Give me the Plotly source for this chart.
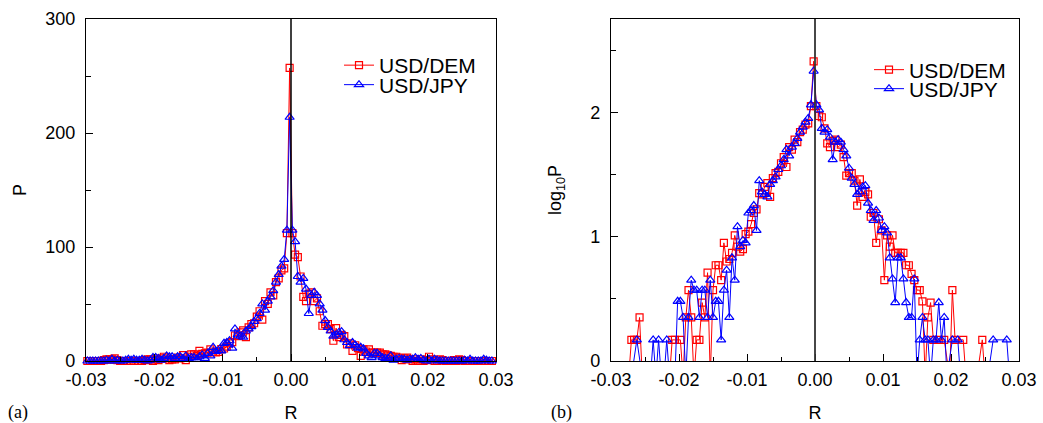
import numpy as np
import plotly.graph_objects as go

# ---------------- data ----------------
R_BINS = [
    -0.0298, -0.0294, -0.0290, -0.0286, -0.0282, -0.0278, -0.0274, -0.0270, -0.0266, -0.0262,
    -0.0258, -0.0254, -0.0250, -0.0246, -0.0242, -0.0238, -0.0234, -0.0230, -0.0226, -0.0222,
    -0.0218, -0.0214, -0.0210, -0.0206, -0.0202, -0.0198, -0.0194, -0.0190, -0.0186, -0.0182,
    -0.0178, -0.0174, -0.0170, -0.0166, -0.0162, -0.0158, -0.0154, -0.0150, -0.0146, -0.0142,
    -0.0138, -0.0134, -0.0130, -0.0126, -0.0122, -0.0118, -0.0114, -0.0110, -0.0106, -0.0102,
    -0.0098, -0.0094, -0.0090, -0.0086, -0.0082, -0.0078, -0.0074, -0.0070, -0.0066, -0.0062,
    -0.0058, -0.0054, -0.0050, -0.0046, -0.0042, -0.0038, -0.0034, -0.0030, -0.0026, -0.0022,
    -0.0018, -0.0014, -0.0010, -0.0006, -0.0002,
    0.0002, 0.0006, 0.0010, 0.0014, 0.0018, 0.0022, 0.0026, 0.0030, 0.0034, 0.0038,
    0.0042, 0.0046, 0.0050, 0.0054, 0.0058, 0.0062, 0.0066, 0.0070, 0.0074, 0.0078,
    0.0082, 0.0086, 0.0090, 0.0094, 0.0098, 0.0102, 0.0106, 0.0110, 0.0114, 0.0118,
    0.0122, 0.0126, 0.0130, 0.0134, 0.0138, 0.0142, 0.0146, 0.0150, 0.0154, 0.0158,
    0.0162, 0.0166, 0.0170, 0.0174, 0.0178, 0.0182, 0.0186, 0.0190, 0.0194, 0.0198,
    0.0202, 0.0206, 0.0210, 0.0214, 0.0218, 0.0222, 0.0226, 0.0230, 0.0234, 0.0238,
    0.0242, 0.0246, 0.0250, 0.0254, 0.0258, 0.0262, 0.0266, 0.0270, 0.0274, 0.0278,
    0.0282, 0.0286, 0.0290, 0.0294,
]

# log10 P per bin (None = empty bin)
LOGP_DEM = [
    None, None, None, None, None, None, -0.13, 0.17, 0.17, 0.17,
    0.35, -0.13, None, None, None, None, None, None, None, None,
    None, -0.13, 0.17, 0.17, None, 0.17, -0.13, 0.35, 0.57, 0.35,
    -0.13, 0.17, 0.17, 0.47, 0.35, 0.71, -0.13, 0.57, 0.77, 0.77,
    0.65, 0.95, 0.80, 0.82, 0.87, 1.01, 0.92, 0.88, 0.90, 1.02,
    1.04, 1.10, 1.19, 1.22, 1.35, 1.34, 1.40, 1.43, 1.32, 1.47,
    1.51, 1.52, 1.59, 1.64, 1.56, 1.72, 1.70, 1.78, 1.76, 1.84,
    1.86, 1.90, 1.91, 2.05, 2.41,
    2.05, 1.97, 1.96, 1.87, 1.75, 1.72, 1.77, 1.78, 1.72, 1.74,
    1.64, 1.49, 1.51, 1.51, 1.45, 1.25, 1.46, 1.32, 1.36, 1.34,
    1.16, 1.19, 0.95, 1.14, 1.05, 0.65, 1.01, 0.92, 1.01, 0.87,
    0.87, 0.87, 0.87, 0.77, 0.77, 0.70, 0.65, 0.57, 0.57, 0.48,
    -0.13, 0.35, 0.47, 0.17, None, 0.17, None, 0.17, None, -0.13,
    0.57, 0.17, None, None, 0.17, -0.13, None, None, None, -0.13,
    None, 0.17, -0.13, None, None, None, None, None, None, None,
    None, None, None, None,
]

LOGP_JPY = [
    None, None, None, None, None, None, None, -0.13, None, 0.17,
    None, -0.13, None, None, -0.13, 0.17, -0.13, 0.17, -0.13, -0.13,
    0.17, -0.13, None, -0.13, 0.48, 0.48, 0.35, -0.13, 0.35, 0.65,
    0.57, 0.57, 0.35, 0.57, 0.57, 0.35, 0.65, 0.35, 0.48, 0.48,
    0.17, 0.57, 0.73, 0.35, 0.83, 0.65, 1.08, 0.92, 0.97, 0.95,
    1.19, 1.21, 1.25, 1.05, 1.45, 1.36, 1.34, 1.32, 1.42, 1.45,
    1.48, 1.54, 1.57, 1.62, 1.70, 1.65, 1.72, 1.75, 1.79, 1.84,
    1.88, 1.92, 1.95, 2.06, 2.33,
    2.06, 2.02, 1.87, 1.84, 1.86, 1.80, 1.62, 1.76, 1.78, 1.76,
    1.70, 1.65, 1.55, 1.47, 1.42, 1.34, 1.36, 1.40, 1.41, 1.27,
    1.21, 1.13, 1.21, 1.15, 1.05, 1.08, 1.03, 0.83, 0.66, 0.47,
    0.83, 0.83, 0.66, 0.47, 0.35, 0.35, 0.66, -0.13, 0.17, 0.35,
    0.17, 0.17, -0.13, 0.17, 0.17, 0.47, 0.17, 0.35, -0.13, None,
    0.17, None, 0.17, -0.13, None, None, None, None, None, None,
    None, None, None, -0.13, None, 0.17, None, None, None, None,
    0.17, -0.13, None, None,
]

SERIES_NAMES = ["USD/DEM", "USD/JPY"]
X_TICKS = [-0.03, -0.02, -0.01, 0.0, 0.01, 0.02, 0.03]
X_TICK_TEXT = ["-0.03", "-0.02", "-0.01", "0.00", "0.01", "0.02", "0.03"]
P_TICKS = [0, 100, 200, 300]
LOGP_TICKS = [0, 1, 2]

# ---------------- derived ----------------
def to_p(vals):
    return [0.0 if v is None else 10 ** v for v in vals]

W, H = 1043, 423
def px(xp):
    return xp / W
def py(yp):
    return 1 - yp / H

RED = "#ff0000"
BLUE = "#0000ff"
FONT = "Liberation Sans, Arial, Helvetica, sans-serif"
SERIF = "Liberation Serif, Times New Roman, serif"

fig = go.Figure()

styles = [
    dict(color=RED, symbol="square-open", size=7),
    dict(color=BLUE, symbol="triangle-up-open", size=8),
]
logs = [LOGP_DEM, LOGP_JPY]
left_legends = ["legend2", "legend3"]
right_legends = ["legend4", "legend5"]

for i in range(2):
    st = styles[i]
    fig.add_trace(go.Scatter(
        x=R_BINS, y=to_p(logs[i]), mode="lines+markers", name=SERIES_NAMES[i],
        line=dict(color=st["color"], width=1),
        marker=dict(symbol=st["symbol"], size=st["size"], color=st["color"],
                    line=dict(color=st["color"], width=1.2)),
        xaxis="x", yaxis="y", legend=left_legends[i],
        cliponaxis=False,
    ))
for i in range(2):
    st = styles[i]
    fig.add_trace(go.Scatter(
        x=R_BINS, y=logs[i], mode="lines+markers", name=SERIES_NAMES[i],
        connectgaps=True,
        line=dict(color=st["color"], width=1),
        marker=dict(symbol=st["symbol"], size=st["size"], color=st["color"],
                    line=dict(color=st["color"], width=1.2)),
        xaxis="x2", yaxis="y2", legend=right_legends[i],
    ))

ydom = [py(361), py(19)]
axis_common = dict(
    showline=True, mirror=True, linecolor="black", linewidth=1.3,
    ticks="inside", ticklen=7, tickwidth=1.2, tickcolor="black",
    showgrid=False, zeroline=False, automargin=False,
    tickfont=dict(family=FONT, size=18, color="black"),
)
xminor = dict(ticks="inside", ticklen=4, dtick=0.005, tick0=0, tickcolor="black", tickwidth=1.2)

fig.update_layout(
    template="none",
    width=W, height=H,
    margin=dict(l=0, r=0, t=0, b=0, autoexpand=False),
    paper_bgcolor="white", plot_bgcolor="white",
    font=dict(family=FONT, size=18, color="black"),
    showlegend=True,
    xaxis=dict(domain=[px(86), px(496)], range=[-0.03, 0.03],
               tickvals=X_TICKS, ticktext=X_TICK_TEXT, anchor="y",
               ticklabelstandoff=2, minor=xminor,
               title=dict(text="R", standoff=17, font=dict(size=18)), **axis_common),
    yaxis=dict(domain=ydom, range=[0, 300], tickvals=P_TICKS, anchor="x",
               ticklabelstandoff=6,
               minor=dict(ticks="inside", ticklen=5, dtick=50, tick0=0, tickcolor="black", tickwidth=1.2),
               title=dict(text="P", standoff=13, font=dict(size=18)), **axis_common),
    xaxis2=dict(domain=[px(611), px(1019)], range=[-0.03, 0.03],
                tickvals=X_TICKS, ticktext=X_TICK_TEXT, anchor="y2",
                ticklabelstandoff=2, minor=xminor,
                title=dict(text="R", standoff=17, font=dict(size=18)), **axis_common),
    yaxis2=dict(domain=ydom, range=[0, 2.75], tickvals=LOGP_TICKS, anchor="x2",
                ticklabelstandoff=6,
                minor=dict(ticks="inside", ticklen=5, dtick=0.5, tick0=0, tickcolor="black", tickwidth=1.2),
                title=dict(text="log<sub>10</sub>P", standoff=23, font=dict(size=18)), **axis_common),
    shapes=[
        dict(type="line", xref="x", yref="y domain", x0=0, x1=0, y0=0, y1=1,
             line=dict(color="black", width=1.5)),
        dict(type="line", xref="x2", yref="y2 domain", x0=0, x1=0, y0=0, y1=1,
             line=dict(color="#333333", width=1.8)),
    ],
    annotations=[
        dict(text="(a)", xref="paper", yref="paper", x=px(18), y=py(412),
             xanchor="center", yanchor="middle", showarrow=False,
             font=dict(family=SERIF, size=18, color="black")),
        dict(text="(b)", xref="paper", yref="paper", x=px(561), y=py(412),
             xanchor="center", yanchor="middle", showarrow=False,
             font=dict(family=SERIF, size=18, color="black")),
    ],
)

leg = dict(xanchor="left", yanchor="middle", bgcolor="rgba(0,0,0,0)",
           borderwidth=0, font=dict(family=FONT, size=21, color="black"),
           itemwidth=30, orientation="h", entrywidth=140, entrywidthmode="pixels")
fig.update_layout(
    legend2=dict(x=px(339), y=py(65.5), **leg),
    legend3=dict(x=px(339), y=py(85), **leg),
    legend4=dict(x=px(869), y=py(70), **leg),
    legend5=dict(x=px(869), y=py(89), **leg),
)

fig.write_html("out.html")
